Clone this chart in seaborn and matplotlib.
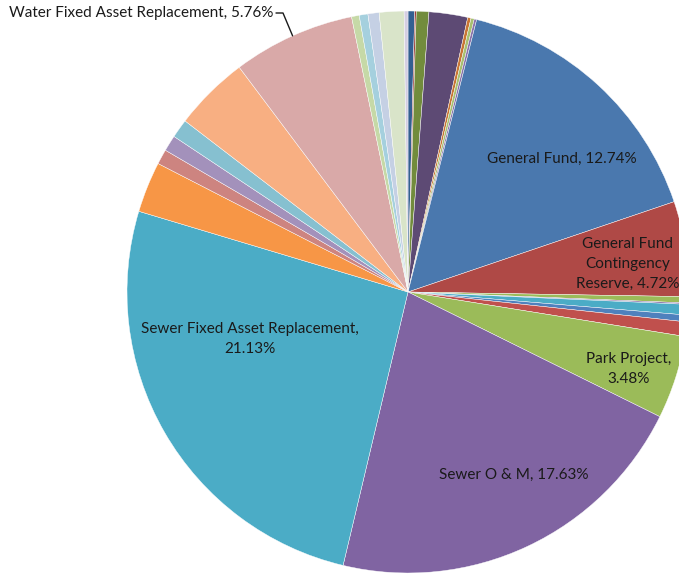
import matplotlib
matplotlib.use("Agg")
import matplotlib.pyplot as plt
import seaborn as sns
import numpy as np

# Slice sizes (share of the pie), clockwise from 12 o'clock
values = [0.38, 0.09, 0.72, 2.22, 0.19, 0.19, 0.14,
          15.86, 5.47, 0.36, 0.08, 0.61, 0.39, 0.83,
          4.78, 21.39, 25.92, 2.92, 0.86, 0.92, 1.08,
          4.33, 7.03, 0.44, 0.50, 0.64, 1.42, 0.22]

colors = ["#335F91", "#9C3B38", "#728C3C", "#5D4A74", "#C87533", "#A8C070", "#8A72AA",
          "#4A78AE", "#AF4946", "#9BBB59", "#8064A2", "#4BACC6", "#4F81BD", "#C0504D",
          "#9BBB59", "#8064A2", "#4BACC6", "#F79646", "#CD8480", "#A391BB", "#86C0D0",
          "#F8AF82", "#D9A9A8", "#C6D9A7", "#A5D0DE", "#C5D0E4", "#D9E4C9", "#D4CEE2"]

# Data labels (text as printed on the chart)
label_texts = ["General Fund, 12.74%",
               "General Fund\nContingency\nReserve, 4.72%",
               "Park Project,\n3.48%",
               "Sewer O & M, 17.63%",
               "Sewer Fixed Asset Replacement,\n21.13%",
               "Water Fixed Asset Replacement, 5.76%"]
# label centres in pixels (x from left, y from top)
label_px = [(562, 159), (628, 264), (629, 369), (514, 475),
            (250, 339), (273, 13)]
label_ha = ["center", "center", "center", "center", "center", "right"]

W, H = 679, 575
CX, CY, R = 408, 292, 281

sns.set_theme(style="white")
plt.rcParams['font.family'] = ['Lato', 'DejaVu Sans']

fig = plt.figure(figsize=(W / 100, H / 100), dpi=100)
ax = fig.add_axes([0, 0, 1, 1])

wedges, _ = ax.pie(values, colors=colors, startangle=90, counterclock=False,
                   radius=1.0, center=(0, 0),
                   wedgeprops=dict(edgecolor="white", linewidth=0.3))

ax.set_xlim(-CX / R, (W - CX) / R)
ax.set_ylim(-(H - CY) / R, CY / R)
ax.set_aspect("auto")
ax.axis("off")

def to_data(px, py):
    return (px - CX) / R, (CY - py) / R

for txt, (px, py), ha in zip(label_texts, label_px, label_ha):
    x, y = to_data(px, py)
    ax.text(x, y, txt, ha=ha, va="center", fontsize=11, color="#1a1a1a",
            linespacing=1.5, multialignment="center")

# leader line for Water Fixed Asset Replacement (index 22 wedge)
w = wedges[22]
mid = np.deg2rad((w.theta1 + w.theta2) / 2)
ex, ey = np.cos(mid), np.sin(mid)
x0, y0 = to_data(276, 13)
x1, y1 = to_data(283, 13)
ax.plot([x0, x1, ex], [y0, y1, ey], color="#1a1a1a", linewidth=1.0)

fig.savefig("out.png", dpi=100)
